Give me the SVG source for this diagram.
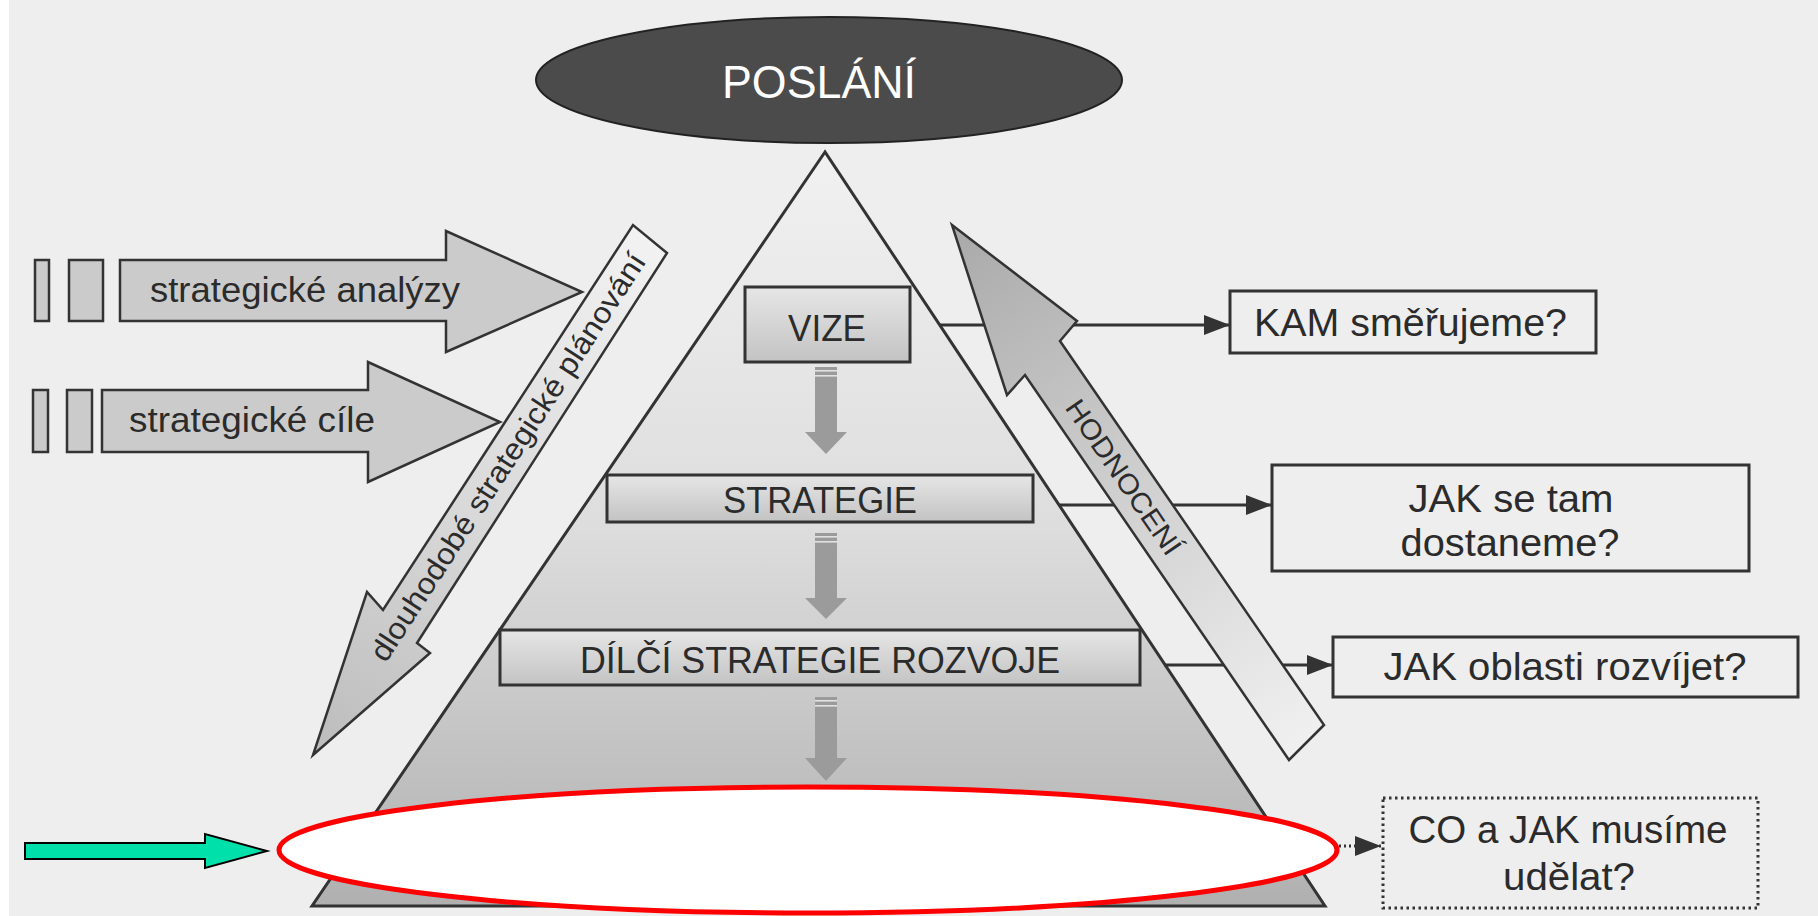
<svg xmlns="http://www.w3.org/2000/svg" width="1818" height="916" viewBox="0 0 1818 916">
  <defs>
    <style>
      .t { font-family: "Liberation Sans", Arial, sans-serif; fill: #2b2b2b; }
      .box { stroke: #333; stroke-width: 3; }
      .qbox { fill: none; stroke: #333; stroke-width: 3; }
      .conn { stroke: #333; stroke-width: 3; fill: none; }
      .down { fill: #9b9b9b; }
      .stripe { fill: #e2e2e2; }
      .grey { fill: #cbcbcb; stroke: #333; stroke-width: 2.5; stroke-linejoin: miter; }
    </style>
    <linearGradient id="gPyr" gradientUnits="userSpaceOnUse" x1="0" y1="152" x2="0" y2="906">
      <stop offset="0" stop-color="#f1f1f1"/>
      <stop offset="0.5" stop-color="#dddddd"/>
      <stop offset="1" stop-color="#b0b0b0"/>
    </linearGradient>
    <linearGradient id="gBox" x1="0" y1="0" x2="0" y2="1">
      <stop offset="0" stop-color="#e6e6e6"/>
      <stop offset="1" stop-color="#c3c3c3"/>
    </linearGradient>
    <linearGradient id="gPlan" gradientUnits="userSpaceOnUse" x1="313" y1="755" x2="650" y2="239">
      <stop offset="0" stop-color="#bcbcbc"/>
      <stop offset="0.45" stop-color="#d8d8d8"/>
      <stop offset="1" stop-color="#f2f2f2"/>
    </linearGradient>
    <linearGradient id="gEval" gradientUnits="userSpaceOnUse" x1="952" y1="225" x2="1306" y2="742">
      <stop offset="0" stop-color="#a9a9a9"/>
      <stop offset="0.5" stop-color="#cfcfcf"/>
      <stop offset="1" stop-color="#f0f0f0"/>
    </linearGradient>
    <marker id="ah" viewBox="0 0 26 20" refX="26" refY="10" markerWidth="26" markerHeight="20" markerUnits="userSpaceOnUse" orient="auto">
      <path d="M0,0 L26,10 L0,20 z" fill="#333"/>
    </marker>
  </defs>

  <rect x="0" y="0" width="1818" height="916" fill="#eeeeee"/>
  <rect x="0" y="0" width="9" height="916" fill="#ffffff"/>

  <g id="pyramid">
    <polygon points="825,152 312,906 1325,906" fill="url(#gPyr)" stroke="#333" stroke-width="3" stroke-linejoin="miter"/>
  </g>

  <g id="poslani">
    <ellipse cx="829" cy="80" rx="293" ry="63" fill="#4b4b4b" stroke="#222" stroke-width="2"/>
    <text class="t" x="819" y="98" font-size="46" text-anchor="middle" style="fill:#ffffff" textLength="194" lengthAdjust="spacingAndGlyphs">POSLÁNÍ</text>
  </g>

  <g id="vize">
    <rect class="box" x="745" y="287" width="165" height="75" fill="url(#gBox)"/>
    <text class="t" x="827" y="341" font-size="37" text-anchor="middle" textLength="78" lengthAdjust="spacingAndGlyphs">VIZE</text>
  </g>

  <g id="strategie">
    <rect class="box" x="607" y="475" width="426" height="47" fill="url(#gBox)"/>
    <text class="t" x="820" y="513" font-size="36" text-anchor="middle" textLength="194" lengthAdjust="spacingAndGlyphs">STRATEGIE</text>
  </g>

  <g id="dilci">
    <rect class="box" x="500" y="630" width="640" height="55" fill="url(#gBox)"/>
    <text class="t" x="820" y="673" font-size="36" text-anchor="middle" textLength="480" lengthAdjust="spacingAndGlyphs">DÍLČÍ STRATEGIE ROZVOJE</text>
  </g>

  <g id="analyzy">
    <rect class="grey" x="35" y="260" width="14" height="61"/>
    <rect class="grey" x="69" y="260" width="34" height="61"/>
    <polygon class="grey" points="120,260 446,260 446,231 582,292 446,352 446,321 120,321"/>
    <text class="t" x="150" y="302" font-size="35" textLength="310" lengthAdjust="spacingAndGlyphs">strategické analýzy</text>
  </g>

  <g id="cile">
    <rect class="grey" x="33" y="390" width="15" height="62"/>
    <rect class="grey" x="67" y="390" width="25" height="62"/>
    <polygon class="grey" points="102,390 368,390 368,362 500,422 368,482 368,452 102,452"/>
    <text class="t" x="129" y="432" font-size="35" textLength="246" lengthAdjust="spacingAndGlyphs">strategické cíle</text>
  </g>

  <g id="planovani">
    <polygon points="313,755 430,653 417,643 667,253 633,225 383,610 367,592" fill="url(#gPlan)" stroke="#333" stroke-width="2.5" stroke-linejoin="miter"/>
    <text class="t" transform="translate(508,457) rotate(-57)" x="0" y="10" font-size="30" text-anchor="middle" textLength="480" lengthAdjust="spacingAndGlyphs">dlouhodobé strategické plánování</text>
  </g>

  <g id="connectors">
    <rect class="down" x="815" y="367" width="22" height="66"/>
    <polygon class="down" points="805,432 847,432 826,454"/>
    <rect class="stripe" x="815" y="370" width="22" height="1.6"/>
    <rect class="stripe" x="815" y="375" width="22" height="1.6"/>

    <rect class="down" x="815" y="533" width="22" height="66"/>
    <polygon class="down" points="805,598 847,598 826,619"/>
    <rect class="stripe" x="815" y="536" width="22" height="1.6"/>
    <rect class="stripe" x="815" y="541" width="22" height="1.6"/>

    <rect class="down" x="815" y="697" width="22" height="62"/>
    <polygon class="down" points="805,758 847,758 826,781"/>
    <rect class="stripe" x="815" y="700" width="22" height="1.6"/>
    <rect class="stripe" x="815" y="705" width="22" height="1.6"/>

    <line class="conn" x1="940" y1="325" x2="1230" y2="325" marker-end="url(#ah)"/>
    <line class="conn" x1="1060" y1="505" x2="1272" y2="505" marker-end="url(#ah)"/>
    <line class="conn" x1="1164" y1="665" x2="1333" y2="665" marker-end="url(#ah)"/>
    <line class="conn" x1="1339" y1="846" x2="1381" y2="846" stroke-dasharray="2 3" marker-end="url(#ah)"/>
  </g>

  <g id="hodnoceni">
    <polygon points="952,225 1077,321 1060,341 1324,725 1289,760 1025,375 1007,395" fill="url(#gEval)" stroke="#333" stroke-width="2.5" stroke-linejoin="miter"/>
    <text class="t" transform="translate(1124,477) rotate(55.5)" x="0" y="10" font-size="28" text-anchor="middle" textLength="182" lengthAdjust="spacingAndGlyphs">HODNOCENÍ</text>
  </g>

  <g id="focus">
    <ellipse cx="808" cy="850" rx="529" ry="63" fill="#ffffff" stroke="#ff0000" stroke-width="5"/>
  </g>

  <g id="pointer">
    <polygon points="25,843 205,843 205,834 267,851 205,868 205,859 25,859" fill="#00e0aa" stroke="#000" stroke-width="2"/>
  </g>

  <g id="kam">
    <rect class="qbox" x="1230" y="291" width="366" height="62"/>
    <text class="t" x="1254" y="336" font-size="38" textLength="313" lengthAdjust="spacingAndGlyphs">KAM směřujeme?</text>
  </g>

  <g id="jak-tam">
    <rect class="qbox" x="1272" y="465" width="477" height="106"/>
    <text class="t" x="1511" y="512" font-size="38" text-anchor="middle" textLength="205" lengthAdjust="spacingAndGlyphs">JAK se tam</text>
    <text class="t" x="1510" y="556" font-size="38" text-anchor="middle" textLength="219" lengthAdjust="spacingAndGlyphs">dostaneme?</text>
  </g>

  <g id="jak-oblasti">
    <rect class="qbox" x="1333" y="637" width="465" height="60"/>
    <text class="t" x="1565" y="680" font-size="38" text-anchor="middle" textLength="363" lengthAdjust="spacingAndGlyphs">JAK oblasti rozvíjet?</text>
  </g>

  <g id="co-jak">
    <rect class="qbox" x="1383" y="798" width="375" height="110" stroke-dasharray="2.5 3.5"/>
    <text class="t" x="1568" y="843" font-size="38" text-anchor="middle" textLength="319" lengthAdjust="spacingAndGlyphs">CO a JAK musíme</text>
    <text class="t" x="1569" y="890" font-size="38" text-anchor="middle" textLength="132" lengthAdjust="spacingAndGlyphs">udělat?</text>
  </g>
</svg>
